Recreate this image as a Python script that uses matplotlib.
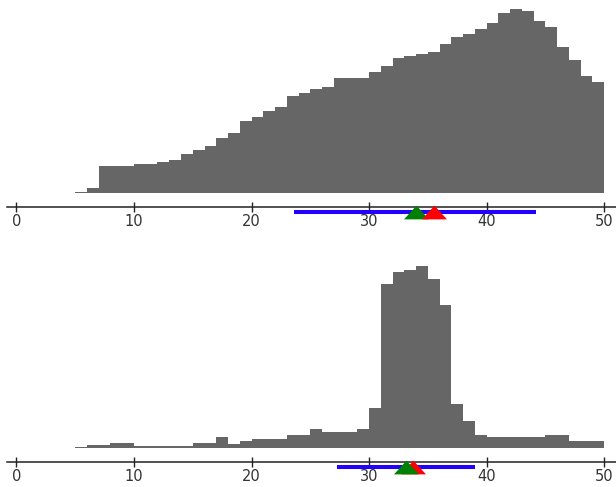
import matplotlib
matplotlib.use("Agg")
import matplotlib.pyplot as plt
import numpy as np

# Гістограми: інтервали шириною 1, від 5 до 50
bin_start = 5
bin_end = 50

top_heights = [1, 5.3, 27.3, 27.3, 27.3, 29, 29, 31, 33, 39,
               43, 47, 55, 60.7, 72, 76.7, 82.3, 86, 97.7, 100,
               104, 106.3, 115.7, 115.7, 115.7, 121.7, 127.3, 135, 137.3, 139.3,
               141.3, 149.3, 156.7, 159, 164.7, 170.3, 180.7, 184.3, 182.3, 172.7,
               166.7, 146.7, 133, 117.3, 111.7]
top_range = [23.6, 44.2]
top_green = 34.0
top_red = 35.5

bottom_heights = [1, 3, 3, 5, 5, 2.7, 2.7, 2.7, 2.7, 2.7,
                  5, 5, 11, 4.7, 7, 9.7, 9.7, 9.7, 13, 13,
                  19.7, 16.7, 16.7, 16.7, 19.3, 40.7, 164.3, 176.7, 178.7, 182.3,
                  169, 143, 44.3, 27.3, 13.3, 11, 11, 11, 11, 11,
                  13, 13, 7, 7, 7]
bottom_range = [27.3, 39.0]
bottom_green = 33.15
bottom_red = 33.7

ticks = [0, 10, 20, 30, 40, 50]

W, H = 616, 487
tri = [(-1, -0.55), (1, -0.55), (0, 0.55)]


def panel(fig, bottom_px, height_px, heights, rng, green, red, red_on_top):
    ax = fig.add_axes([7 / W, bottom_px / H, 609 / W, height_px / H])
    edges = np.arange(bin_start, bin_end)
    ax.bar(edges, heights, width=1, align="edge", color="#666666", linewidth=0)
    ax.set_xlim(-0.8, 51.0)
    ax.set_ylim(0, height_px)

    for s in ["top", "left", "right"]:
        ax.spines[s].set_visible(False)
    ax.spines["bottom"].set_position(("outward", 9.7))
    ax.spines["bottom"].set_color("#222222")
    ax.spines["bottom"].set_linewidth(1.1)
    ax.set_yticks([])
    ax.set_xticks(ticks)
    ax.set_xticklabels([str(t) for t in ticks])
    ax.tick_params(axis="x", direction="inout", length=7.5, width=1,
                   color="#222222", pad=1.5, labelsize=10.5, labelcolor="#333333")

    # Діапазон та позначки під віссю
    ax.plot(rng, [-19, -19], color="#2200ff", linewidth=2.9,
            solid_capstyle="butt", clip_on=False, zorder=3)
    ax.plot([red], [-19], linestyle="none", marker=tri, markersize=18,
            color="#ff0000", markeredgewidth=0, clip_on=False,
            zorder=5 if red_on_top else 4)
    ax.plot([green], [-19], linestyle="none", marker=tri, markersize=18,
            color="#008000", markeredgewidth=0, clip_on=False,
            zorder=4 if red_on_top else 5)
    return ax


def main():
    fig = plt.figure(figsize=(W / 100, H / 100), dpi=100)
    panel(fig, 293.7, 193.7, top_heights, top_range, top_green, top_red, True)
    panel(fig, 38.7, 193.3, bottom_heights, bottom_range, bottom_green, bottom_red, False)
    fig.savefig("out.png", dpi=100)


if __name__ == "__main__":
    main()
